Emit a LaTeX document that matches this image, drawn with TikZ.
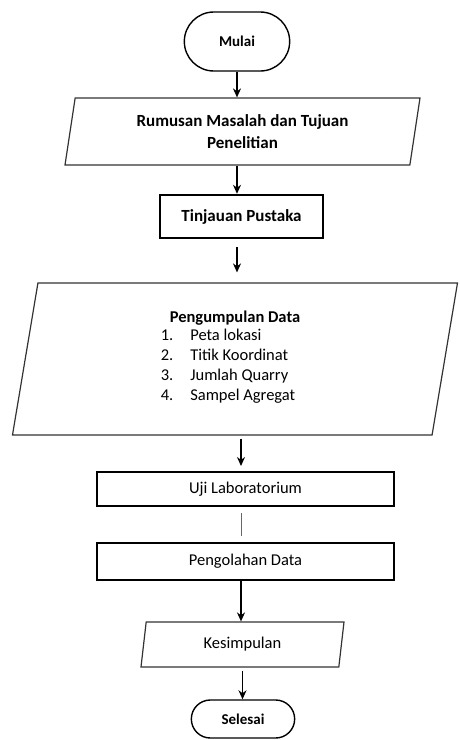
\documentclass[tikz,border=0pt]{standalone}
\usepackage{fontspec}
\setmainfont{Carlito}
\usetikzlibrary{shapes.geometric,shapes.misc,arrows.meta}

\begin{document}
\begin{tikzpicture}[
    x=1pt, y=-1pt,
    every node/.style={font=\fontsize{16.5}{20}\selectfont},
    terminal/.style={
        rounded rectangle,
        draw,
        line width=1.4pt,
        font=\fontsize{15}{17}\selectfont\bfseries
    },
    process/.style={
        rectangle,
        draw,
        line width=2pt,
        align=center
    },
    data/.style={
        trapezium,
        trapezium left angle=76,
        trapezium right angle=104,
        trapezium stretches body,
        draw=black!80,
        line width=1.2pt,
        align=center
    },
    arrow/.style={-{Stealth[length=9pt,width=8pt]}, line width=1.4pt}
]
\useasboundingbox (0,0) rectangle (459,740);

% Nodes
\node (mulai) [terminal, minimum width=112pt, minimum height=59pt] at (237,41.5) {Mulai};

\node (rumusan) [data, minimum width=355pt, minimum height=67pt,
    font=\fontsize{17}{22}\selectfont\bfseries] at (242.5,131.5)
{Rumusan Masalah dan Tujuan\\Penelitian};

\node (tinjauan) [process, minimum width=163pt, minimum height=43pt,
    line width=2.4pt, font=\fontsize{17}{20}\selectfont\bfseries] at (241.5,216.5)
{Tinjauan Pustaka};

\node (pengumpulan) [data, minimum width=445pt, minimum height=152pt] at (235,359)
{\textbf{Pengumpulan Data}\\
 \begin{tabular}{@{}l@{\hspace{17pt}}l@{\hspace{14pt}}}
 1. & Peta lokasi\\
 2. & Titik Koordinat\\
 3. & Jumlah Quarry\\
 4. & Sampel Agregat
 \end{tabular}};

\node (uji) [process, minimum width=297pt, minimum height=34pt] at (245.5,489)
{Uji Laboratorium};

\node (pengolahan) [process, minimum width=297pt, minimum height=37pt] at (245.5,561.5)
{Pengolahan Data};

\node (kesimpulan) [data, minimum width=203pt, minimum height=45pt] at (242.5,644.5)
{Kesimpulan};

\node (selesai) [terminal, minimum width=110pt, minimum height=38pt] at (243,719)
{Selesai};

% Arrows
\draw [arrow] (mulai.south) -- (mulai.south |- rumusan.north);
\draw [arrow] (rumusan.south -| mulai) -- (mulai |- tinjauan.north);
\draw [arrow, shorten <=8pt, shorten >=10pt] (tinjauan.south -| mulai) -- (mulai |- pengumpulan.north);
\draw [arrow, shorten <=3pt, shorten >=5pt] (pengumpulan.south -| uji.north) ++(-4.5,0) coordinate (p1) -- (p1 |- uji.north);
\draw [line width=0.9pt, black!60, shorten <=6pt, shorten >=6pt] (p1 |- uji.south) -- (p1 |- pengolahan.north);
\draw [arrow] (p1 |- pengolahan.south) -- (p1 |- kesimpulan.north);
\draw [arrow, shorten <=3pt] (kesimpulan.south) -- (kesimpulan.south |- selesai.north);

\end{tikzpicture}
\end{document}
